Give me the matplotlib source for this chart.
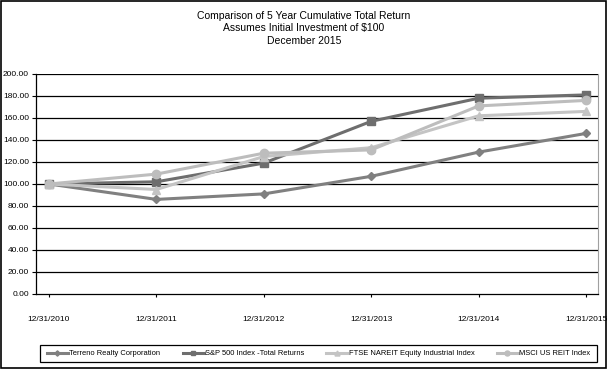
import matplotlib.pyplot as plt
from matplotlib.patches import Rectangle

dates = ["12/31/2010", "12/31/2011", "12/31/2012", "12/31/2013", "12/31/2014", "12/31/2015"]
terreno = [100, 86, 91, 107, 129, 146]
sp500 = [100, 102, 119, 157, 178, 181]
ftse = [100, 95, 125, 133, 162, 166]
msci = [100, 109, 128, 131, 171, 176]
yticks = [0, 20, 40, 60, 80, 100, 120, 140, 160, 180, 200]

plt.rcParams['font.family'] = ['Liberation Sans', 'DejaVu Sans']

fig = plt.figure(figsize=(6.08, 3.69), dpi=100)
ax = fig.add_axes([36/608, 1-294/369, (598-36)/608, (294-74)/369])

x = list(range(len(dates)))
series = [
    (terreno, "Terreno Realty Corporation", "#808080", "D", 4.5),
    (sp500, "S&P 500 Index -Total Returns", "#6e6e6e", "s", 5.5),
    (ftse, "FTSE NAREIT Equity Industrial Index", "#c4c4c4", "^", 6),
    (msci, "MSCI US REIT Index", "#bdbdbd", "o", 6),
]
for vals, label, col, mk, ms in series:
    ax.plot(x, vals, color=col, lw=2.2, marker=mk, ms=ms, label=label, zorder=3)

ax.set_ylim(0, 200)
ax.set_xlim(-0.12, 5.11)
ax.set_yticks(yticks)
ax.set_yticklabels([f"{v:.2f}" for v in yticks], fontsize=6)
ax.set_xticks(x)
ax.set_xticklabels(dates, fontsize=6)
ax.tick_params(axis='x', length=2, pad=14)
ax.tick_params(axis='y', length=3, pad=2)
for v in yticks[1:]:
    ax.axhline(v, color='black', lw=0.9, zorder=1)
ax.spines['top'].set_visible(False)
ax.spines['right'].set_color('#a0a0a0')
ax.spines['left'].set_color('black')
ax.spines['bottom'].set_color('black')
ax.spines['left'].set_linewidth(0.9)
ax.spines['bottom'].set_linewidth(0.9)

fig.text(0.5, 1-16/369, "Comparison of 5 Year Cumulative Total Return", ha='center', va='center', fontsize=7.5)
fig.text(0.5, 1-28/369, "Assumes Initial Investment of $100", ha='center', va='center', fontsize=7.5)
fig.text(0.5, 1-41/369, "December 2015", ha='center', va='center', fontsize=7.5)

leg = fig.legend(loc='center', bbox_to_anchor=(318.5/608, 1-353.5/369), ncol=4, fontsize=5.4,
                 frameon=False, handlelength=2.8,
                 columnspacing=3.0, handletextpad=0.15, borderpad=0.3, markerscale=0.6)

fig.patches.append(Rectangle((40/608, 1-362/369), 557/608, 17/369, transform=fig.transFigure,
                             fill=False, edgecolor='black', lw=0.9))
fig.patches.append(Rectangle((0.002, 0.003), 0.995, 0.994, transform=fig.transFigure,
                             fill=False, edgecolor='black', lw=1.2))

fig.savefig("out.png", dpi=100)
